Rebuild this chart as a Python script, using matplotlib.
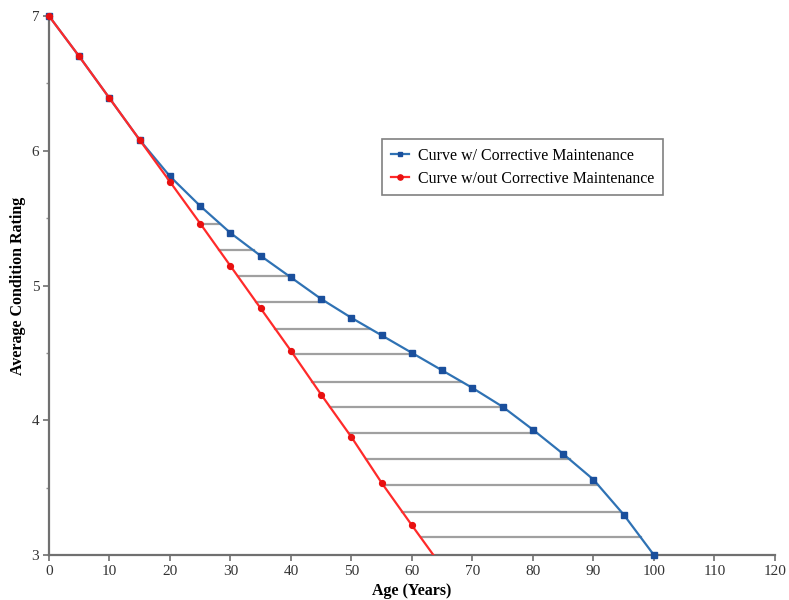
import numpy as np
import matplotlib
matplotlib.use("Agg")
import matplotlib.pyplot as plt

# Data
age_blue = [0, 5, 10, 15, 20, 25, 30, 35, 40, 45, 50, 55, 60, 65, 70, 75, 80, 85, 90, 95, 100]
rating_blue = [7.0, 6.70, 6.39, 6.08, 5.81, 5.59, 5.39, 5.22, 5.06, 4.90, 4.76, 4.63, 4.50,
               4.37, 4.24, 4.10, 3.93, 3.75, 3.56, 3.30, 3.00]
age_red = [0, 5, 10, 15, 20, 25, 30, 35, 40, 45, 50, 55, 60, 65]
rating_red = [7.0, 6.70, 6.39, 6.08, 5.77, 5.46, 5.145, 4.83, 4.515, 4.19, 3.875, 3.535, 3.22, 2.91]
hatch_levels = [5.46, 5.26, 5.07, 4.88, 4.68, 4.49, 4.285, 4.10, 3.905, 3.71, 3.52, 3.32, 3.13]

x_ticks = [0, 10, 20, 30, 40, 50, 60, 70, 80, 90, 100, 110, 120]
y_ticks = [3, 4, 5, 6, 7]

plt.rcParams['font.family'] = ['Liberation Serif', 'DejaVu Serif']

fig = plt.figure(figsize=(7.89, 6.0), dpi=100)
ax = fig.add_axes([0.0621, 0.075, 0.92, 0.8983])

# hatch lines between curves
rb = np.array(rating_blue)[::-1]
ab = np.array(age_blue)[::-1]
rr = np.array(rating_red)[::-1]
ar = np.array(age_red)[::-1]
for lv in hatch_levels:
    xl = np.interp(lv, rr, ar)
    xr = np.interp(lv, rb, ab)
    ax.plot([xl, xr], [lv, lv], color='#a0a0a0', lw=1.6, zorder=1)

ax.plot(age_blue, rating_blue, color='#2f72b4', lw=1.6, marker='s', ms=3.8,
        mfc='#1a4f9c', mec='#1a4f9c', zorder=3, clip_on=False,
        label='Curve w/ Corrective Maintenance')
ax.plot(age_red, rating_red, color='#ff2a2a', lw=1.6, marker='o', ms=4.2,
        mfc='#e81010', mec='#e81010', markevery=list(range(len(age_red) - 1)), zorder=4,
        label='Curve w/out Corrective Maintenance')
ax.plot(age_red[:1], rating_red[:1], ls='none', marker='o', ms=4.2, mfc='#e81010',
        mec='#e81010', clip_on=False, zorder=5)

ax.set_xlim(0, 120)
ax.set_ylim(3, 7)
ax.set_xticks(x_ticks)
ax.set_yticks(y_ticks)
ax.set_yticks([3.5, 4.5, 5.5, 6.5], minor=True)
for s in ['top', 'right']:
    ax.spines[s].set_visible(False)
for s in ['left', 'bottom']:
    ax.spines[s].set_color('#707070')
    ax.spines[s].set_linewidth(1.6)
ax.tick_params(axis='both', which='major', length=4, width=1.2, color='#707070',
               labelsize=11, labelcolor='#333333', pad=3)
ax.tick_params(axis='y', which='minor', length=2, width=1.0, color='#909090')
ax.set_xlabel('Age (Years)', fontsize=11.5, fontweight='bold', labelpad=4)
ax.set_ylabel('Average Condition Rating', fontsize=11.5, fontweight='bold', labelpad=4)

leg = ax.legend(loc='upper left', bbox_to_anchor=(0.4587, 0.772), fontsize=11.4,
                frameon=True, fancybox=False, edgecolor='#606060', borderpad=0.55,
                labelspacing=0.45, handlelength=1.15, handletextpad=0.55,
                borderaxespad=0, markerscale=0.9)
leg.get_frame().set_linewidth(1.2)

fig.savefig('out.png', dpi=100)
